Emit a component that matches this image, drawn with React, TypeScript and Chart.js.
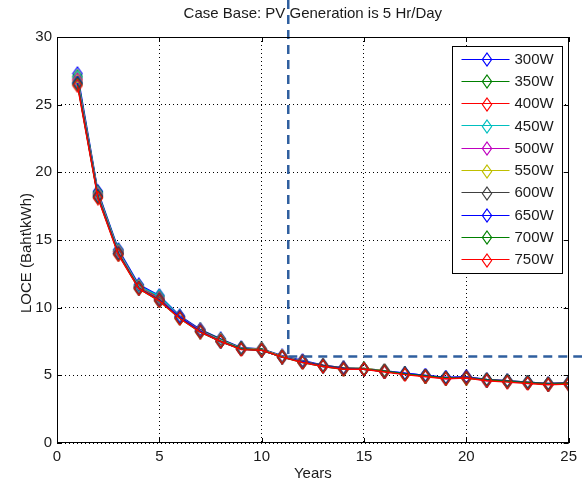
import React, { useEffect, useRef } from "react";
import { Chart, registerables } from "chart.js";

Chart.register(...registerables);

const TITLE = "Case Base: PV Generation is 5 Hr/Day";
const X_LABEL = "Years";
const Y_LABEL = "LOCE (Baht\\kWh)";

const YEARS = [1, 2, 3, 4, 5, 6, 7, 8, 9, 10, 11, 12, 13, 14, 15, 16, 17, 18, 19, 20, 21, 22, 23, 24, 25];

const SERIES_LABELS = ["300W", "350W", "400W", "450W", "500W", "550W", "600W", "650W", "700W", "750W"];
const SERIES_COLORS = ["#0000ff", "#008000", "#ff0000", "#00bfbf", "#bf00bf", "#bfbf00", "#404040", "#0000ff", "#008000", "#ff0000"];

const LOCE_300W = [27.3, 18.6, 14.3, 11.7, 10.9, 9.4, 8.4, 7.7, 7.05, 6.95, 6.45, 6.1, 5.75, 5.55, 5.5, 5.35, 5.15, 5.0, 4.85, 4.9, 4.7, 4.6, 4.5, 4.4, 4.45];
const LOCE_350W = [27.1, 18.5, 14.2, 11.6, 10.8, 9.35, 8.35, 7.65, 7.0, 6.95, 6.4, 6.05, 5.7, 5.5, 5.5, 5.3, 5.1, 4.95, 4.8, 4.85, 4.65, 4.55, 4.45, 4.35, 4.4];
const LOCE_400W = [26.9, 18.4, 14.15, 11.55, 10.7, 9.3, 8.3, 7.6, 7.0, 6.9, 6.4, 6.05, 5.7, 5.5, 5.45, 5.3, 5.1, 4.95, 4.8, 4.85, 4.65, 4.55, 4.45, 4.35, 4.4];
const LOCE_450W = [27.0, 18.45, 14.2, 11.6, 10.85, 9.35, 8.3, 7.6, 7.0, 6.9, 6.4, 6.05, 5.7, 5.5, 5.45, 5.3, 5.1, 4.95, 4.8, 4.85, 4.65, 4.55, 4.45, 4.35, 4.4];
const LOCE_500W = [26.8, 18.35, 14.1, 11.5, 10.65, 9.3, 8.3, 7.55, 6.95, 6.9, 6.4, 6.0, 5.7, 5.5, 5.45, 5.3, 5.1, 4.95, 4.75, 4.85, 4.6, 4.55, 4.45, 4.35, 4.4];
const LOCE_550W = [26.7, 18.3, 14.05, 11.5, 10.6, 9.25, 8.25, 7.55, 6.95, 6.9, 6.4, 6.0, 5.7, 5.5, 5.5, 5.35, 5.1, 4.95, 4.8, 4.8, 4.65, 4.55, 4.45, 4.35, 4.4];
const LOCE_600W = [26.6, 18.25, 14.0, 11.45, 10.6, 9.25, 8.25, 7.5, 6.95, 6.85, 6.35, 6.0, 5.75, 5.55, 5.45, 5.3, 5.1, 4.95, 4.8, 4.85, 4.7, 4.6, 4.5, 4.4, 4.45];
const LOCE_650W = [26.6, 18.2, 14.0, 11.45, 10.55, 9.3, 8.25, 7.5, 6.95, 6.85, 6.35, 6.0, 5.65, 5.5, 5.45, 5.3, 5.15, 5.0, 4.85, 4.85, 4.65, 4.55, 4.45, 4.35, 4.4];
const LOCE_700W = [26.5, 18.15, 13.95, 11.4, 10.5, 9.2, 8.2, 7.5, 6.95, 6.85, 6.35, 5.95, 5.65, 5.45, 5.45, 5.3, 5.1, 4.95, 4.8, 4.8, 4.65, 4.55, 4.45, 4.35, 4.4];
const LOCE_750W = [26.4, 18.1, 13.9, 11.4, 10.5, 9.2, 8.2, 7.5, 6.9, 6.85, 6.35, 5.95, 5.65, 5.45, 5.45, 5.25, 5.05, 4.9, 4.75, 4.8, 4.6, 4.5, 4.4, 4.3, 4.35];

const SERIES_VALUES = [LOCE_300W, LOCE_350W, LOCE_400W, LOCE_450W, LOCE_500W, LOCE_550W, LOCE_600W, LOCE_650W, LOCE_700W, LOCE_750W];

const X_MIN = 0;
const X_MAX = 25;
const X_STEP = 5;
const Y_MIN = 0;
const Y_MAX = 30;
const Y_STEP = 5;

// Reference guide (dashed) lines
const GUIDE_YEAR = 11.3;
const GUIDE_LOCE = 6.4;

const FONT = "'Liberation Sans', Arial, sans-serif";
const TEXT_COLOR = "#1a1a1a";
const GUIDE_COLOR = "#2f5f9f";

function makeDiamond(color: string): HTMLCanvasElement {
  const c = document.createElement("canvas");
  c.width = 12;
  c.height = 15;
  const ctx = c.getContext("2d")!;
  ctx.strokeStyle = color;
  ctx.lineWidth = 1.2;
  ctx.beginPath();
  ctx.moveTo(6, 1);
  ctx.lineTo(10.6, 7.5);
  ctx.lineTo(6, 14);
  ctx.lineTo(1.4, 7.5);
  ctx.closePath();
  ctx.stroke();
  return c;
}

export default function App() {
  const ref = useRef<HTMLCanvasElement | null>(null);

  useEffect(() => {
    document.body.style.margin = "0";
    const canvas = ref.current;
    if (!canvas) return;
    const markers = SERIES_COLORS.map((c) => makeDiamond(c));

    const framePlugin = {
      id: "matlabFrame",
      afterDatasetsDraw(chart: any) {
        const { ctx, chartArea, scales } = chart;
        const { left, right, top, bottom } = chartArea;
        ctx.save();
        // guide dashed lines
        const gx = scales.x.getPixelForValue(GUIDE_YEAR);
        const gy = scales.y.getPixelForValue(GUIDE_LOCE);
        ctx.strokeStyle = GUIDE_COLOR;
        ctx.lineWidth = 2.5;
        ctx.setLineDash([9, 6]);
        ctx.beginPath();
        ctx.moveTo(gx, 0);
        ctx.lineTo(gx, gy);
        ctx.stroke();
        ctx.beginPath();
        ctx.moveTo(gx, gy);
        ctx.lineTo(chart.width, gy);
        ctx.stroke();
        ctx.setLineDash([]);
        // frame
        ctx.strokeStyle = "#000";
        ctx.lineWidth = 1;
        ctx.strokeRect(Math.round(left) + 0.5, Math.round(top) + 0.5, Math.round(right - left) - 1, Math.round(bottom - top) - 1);
        // inner tick marks
        const tl = 5;
        ctx.beginPath();
        for (let v = X_MIN; v <= X_MAX; v += X_STEP) {
          const px = Math.round(scales.x.getPixelForValue(v)) + 0.5;
          ctx.moveTo(px, bottom);
          ctx.lineTo(px, bottom - tl);
          ctx.moveTo(px, top);
          ctx.lineTo(px, top + tl);
        }
        for (let v = Y_MIN; v <= Y_MAX; v += Y_STEP) {
          const py = Math.round(scales.y.getPixelForValue(v)) + 0.5;
          ctx.moveTo(left, py);
          ctx.lineTo(left + tl, py);
          ctx.moveTo(right, py);
          ctx.lineTo(right - tl, py);
        }
        ctx.stroke();
        // title
        ctx.fillStyle = TEXT_COLOR;
        ctx.font = `15px ${FONT}`;
        ctx.textAlign = "center";
        ctx.textBaseline = "middle";
        ctx.fillText(TITLE, (left + right) / 2, 14);
        // y-axis label
        ctx.save();
        ctx.translate(27, (top + bottom) / 2 + 13);
        ctx.rotate(-Math.PI / 2);
        ctx.fillText(Y_LABEL, 0, 0);
        ctx.restore();
        ctx.restore();
      },
      afterDraw(chart: any) {
        const { ctx, chartArea } = chart;
        const boxW = 110;
        const rowH = 22.3;
        const boxH = Math.round(rowH * SERIES_LABELS.length + 4);
        const bx = Math.round(chartArea.right - 7 - boxW) + 0.5;
        const by = Math.round(chartArea.top + 9) + 0.5;
        ctx.save();
        ctx.fillStyle = "#fff";
        ctx.fillRect(bx, by, boxW, boxH);
        ctx.strokeStyle = "#000";
        ctx.lineWidth = 1;
        ctx.strokeRect(bx, by, boxW, boxH);
        ctx.font = `15px ${FONT}`;
        ctx.textAlign = "left";
        ctx.textBaseline = "middle";
        SERIES_LABELS.forEach((label, i) => {
          const cy = by + 12 + i * rowH;
          ctx.strokeStyle = SERIES_COLORS[i];
          ctx.lineWidth = 1.2;
          ctx.beginPath();
          ctx.moveTo(bx + 9, Math.round(cy) + 0.5);
          ctx.lineTo(bx + 57, Math.round(cy) + 0.5);
          ctx.stroke();
          const m = markers[i];
          ctx.drawImage(m, Math.round(bx + 34 - m.width / 2), Math.round(cy - m.height / 2) + 1);
          ctx.fillStyle = TEXT_COLOR;
          ctx.fillText(label, bx + 62, cy + 1);
        });
        ctx.restore();
      },
    };

    const chart = new Chart(canvas, {
      type: "line",
      data: {
        datasets: SERIES_LABELS.map((label, i) => ({
          label,
          data: YEARS.map((yr, j) => ({ x: yr, y: SERIES_VALUES[i][j] })),
          borderColor: SERIES_COLORS[i],
          backgroundColor: SERIES_COLORS[i],
          borderWidth: 1.4,
          pointStyle: markers[i],
          pointRadius: 6,
          order: SERIES_LABELS.length - i,
          tension: 0,
        })),
      },
      options: {
        animation: false,
        responsive: false,
        events: [],
        layout: { padding: { top: 37, right: 8, left: 0, bottom: 0 } },
        plugins: {
          legend: { display: false },
          title: { display: false },
          tooltip: { enabled: false },
        },
        scales: {
          x: {
            type: "linear",
            min: X_MIN,
            max: X_MAX,
            ticks: { stepSize: X_STEP, color: TEXT_COLOR, font: { family: FONT, size: 15 }, padding: 5, maxRotation: 0 },
            grid: { color: "#000", lineWidth: 1, drawTicks: false },
            border: { display: false, dash: [1, 3] },
            title: { display: true, text: X_LABEL, color: TEXT_COLOR, font: { family: FONT, size: 15 }, padding: { top: 0, bottom: 2 } },
            afterFit: (s: any) => {
              s.height = 42;
            },
          },
          y: {
            type: "linear",
            min: Y_MIN,
            max: Y_MAX,
            ticks: { stepSize: Y_STEP, color: TEXT_COLOR, font: { family: FONT, size: 15 }, padding: 5 },
            grid: { color: "#000", lineWidth: 1, drawTicks: false },
            border: { display: false, dash: [1, 3] },
            title: { display: false },
            afterFit: (s: any) => {
              s.width = 57;
            },
          },
        },
      } as any,
      plugins: [framePlugin],
    });
    return () => chart.destroy();
  }, []);

  return (
    <div style={{ width: 582, height: 485, background: "#fff" }}>
      <canvas ref={ref} width={582} height={485} style={{ display: "block" }} />
    </div>
  );
}
